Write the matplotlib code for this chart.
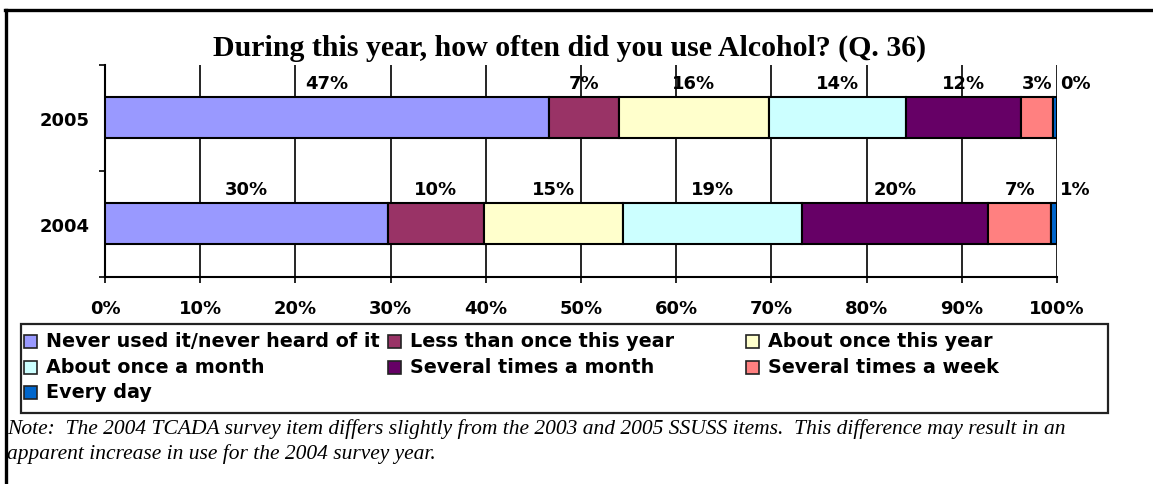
import matplotlib.pyplot as plt
from matplotlib.patches import Rectangle
from matplotlib.lines import Line2D
from matplotlib.ticker import FixedLocator

# survey answers, Q. 36 (percent of students)
years = ['2005', '2004']
categories = ['Never used it/never heard of it', 'Less than once this year',
              'About once this year', 'About once a month',
              'Several times a month', 'Several times a week', 'Every day']
colors = ['#9999FF', '#993366', '#FFFFCC', '#CCFFFF', '#660066', '#FF8080', '#0066CC']
pct_2005 = [46.6, 7.4, 15.7, 14.4, 12.1, 3.4, 0.4]
pct_2004 = [29.7, 10.1, 14.6, 18.8, 19.6, 6.6, 0.6]
tick_labels = ['0%', '10%', '20%', '30%', '40%', '50%', '60%', '70%', '80%', '90%', '100%']

title = 'During this year, how often did you use Alcohol? (Q. 36)'
note = ('Note:  The 2004 TCADA survey item differs slightly from the 2003 and 2005 SSUSS items.  '
        'This difference may result in an\napparent increase in use for the 2004 survey year.')

W, H = 1153, 485
fig = plt.figure(figsize=(W / 100, H / 100), dpi=100)


def fx(px):
    return px / W


def fy(py):
    return (H - py) / H


ax = fig.add_axes([fx(105), fy(277.5), fx(1057) - fx(105), fy(66) - fy(277.5)])

rows = {'2005': pct_2005, '2004': pct_2004}
ypos = {'2005': 1, '2004': 0}
bar_h = 0.39
for year in years:
    left = 0.0
    vals = rows[year]
    for i, v in enumerate(vals):
        ax.barh(ypos[year], v / 100, left=left, height=bar_h, color=colors[i],
                edgecolor='black', linewidth=1.5, zorder=3)
        dx = 0
        if i == len(vals) - 1:
            dx = 15
        ax.annotate(f'{round(v)}%', xy=(left + v / 200, ypos[year] + bar_h / 2),
                    xytext=(dx, 10), textcoords='offset points', ha='center', va='center',
                    fontsize=13, fontweight='bold', zorder=4)
        left += v / 100

ax.set_xlim(0, 1)
ax.set_ylim(-0.5, 1.5)

ax.xaxis.set_major_locator(FixedLocator([i / 10 for i in range(11)]))
ax.set_xticklabels(tick_labels, fontsize=13, fontweight='bold')
ax.tick_params(axis='x', direction='out', length=4, width=1.2, pad=12)

ax.yaxis.set_major_locator(FixedLocator([-0.5, 0.5, 1.5]))
ax.set_yticklabels([])
ax.yaxis.set_minor_locator(FixedLocator([ypos[y] for y in years]))
ax.set_yticklabels(years, minor=True, fontsize=13, fontweight='bold')
ax.tick_params(axis='y', which='major', direction='out', length=4, width=1.2)
ax.tick_params(axis='y', which='minor', length=0, pad=11)

ax.xaxis.grid(True, color='black', linewidth=1.2, zorder=1)
ax.set_axisbelow(True)
for side in ['top', 'right']:
    ax.spines[side].set_visible(False)
for side in ['left', 'bottom']:
    ax.spines[side].set_linewidth(1.5)

fig.text(fx(570), fy(48), title, ha='center', va='center', fontsize=21.5,
         fontweight='bold', family='Liberation Serif')

# legend box, laid out like the spreadsheet one (row by row, equal columns)
fig.add_artist(Rectangle((fx(20.7), fy(414)), fx(1108) - fx(20.7), fy(325) - fy(414),
                         transform=fig.transFigure, fill=False, edgecolor='#222222',
                         linewidth=1.6))
col_x = [24, 388, 746]
row_y = [342, 368, 393]
sq = 13
for i, name in enumerate(categories):
    cx = col_x[i % 3]
    cy = row_y[i // 3]
    fig.add_artist(Rectangle((fx(cx), fy(cy + sq / 2)), fx(sq), fy(0) - fy(sq),
                             transform=fig.transFigure, facecolor=colors[i],
                             edgecolor='#222222', linewidth=1.2))
    fig.text(fx(cx + 22), fy(cy), name, ha='left', va='center', fontsize=13.8,
             fontweight='bold')

fig.text(fx(7), fy(419), note, ha='left', va='top', fontsize=15.5, style='italic',
         family='Liberation Serif', linespacing=1.35)

# outer frame (left and top edges only)
fig.add_artist(Line2D([fx(5.5), fx(5.5)], [fy(485), fy(10.5)], transform=fig.transFigure,
                      color='black', linewidth=2.4))
fig.add_artist(Line2D([fx(4.5), fx(W)], [fy(10.5), fy(10.5)], transform=fig.transFigure,
                      color='black', linewidth=2.4))

fig.savefig('out.png', dpi=100)
